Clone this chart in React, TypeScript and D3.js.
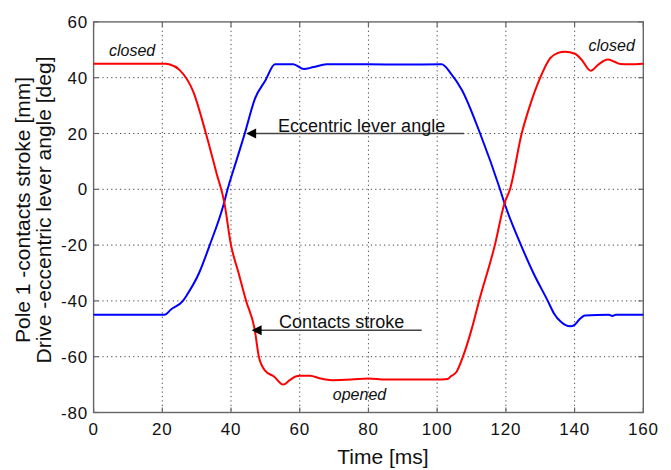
import React from 'react';
import * as d3 from 'd3';

const X_TICKS = [0, 20, 40, 60, 80, 100, 120, 140, 160];
const Y_TICKS = [-80, -60, -40, -20, 0, 20, 40, 60];

// Contacts stroke (red)
const STROKE_T = [0, 21, 22, 25, 29, 32.7, 35.8, 38, 40, 42.2, 44.4, 46.9, 48.1, 50, 52.5, 55.2, 57, 58.8, 60, 63, 66, 69.4, 75, 80, 85, 90, 100, 103, 104, 105.6, 107.5, 110, 112.2, 116.8, 119.6, 121.2, 124.6, 127, 130, 132.9, 135, 137.2, 140.1, 142, 144.7, 147, 149.7, 151.5, 153.3, 156, 160];
const STROKE_V = [45, 45, 44.8, 42.8, 35, 20, 5.7, -4.4, -20, -30, -40, -50.3, -60, -65.1, -67.1, -70, -68.5, -67.1, -66.8, -66.8, -67.8, -68.4, -68.2, -67.8, -68.2, -68.2, -68.2, -68, -67, -65.5, -60, -50.3, -40, -20, -5, 0, 20, 30, 40, 47, 48.8, 49.3, 48.6, 46.5, 42.5, 44.8, 46.5, 45.8, 44.9, 44.8, 45];

// Eccentric lever angle (blue)
const ANGLE_T = [0, 20.6, 22.6, 26, 27.2, 30.7, 33.8, 37.8, 39, 41.5, 44, 47, 50, 52.8, 55, 58.1, 61.2, 64, 67.8, 80, 90, 101.3, 104, 107.2, 112.5, 118.3, 119.6, 124.4, 128, 132.2, 134, 136, 138.7, 140, 141.5, 143, 150, 151, 152, 160];
const ANGLE_V = [-45, -45, -43, -40, -37.8, -30, -20, -5.6, 0, 10, 20, 32.6, 39, 44.8, 44.8, 44.8, 43.1, 43.8, 44.8, 44.8, 44.7, 44.8, 41.5, 35.6, 20, 0, -5, -20, -30, -40, -44.5, -47.5, -49.1, -48.6, -46.5, -45.2, -45, -45.4, -45, -45];

// Arrow annotations: label, arrow tip time, arrow tail time, level
const ARROW_LABELS = ['Eccentric lever angle', 'Contacts stroke'];
const ARROW_TIP_T = [44.4, 46];
const ARROW_TAIL_T = [107.8, 95.5];
const ARROW_V = [20, -50.5];
const ARROW_TEXT_T = [53.7, 54.0];

// State labels
const STATE_LABELS = ['closed', 'closed', 'opened'];
const STATE_T = [11.2, 150.8, 77.4];
const STATE_V = [47.8, 49.6, -75.5];

export default function App() {
  const W = 671;
  const H = 470;
  const x = d3.scaleLinear().domain([0, 160]).range([93.6, 643.3]);
  const y = d3.scaleLinear().domain([-80, 60]).range([412.5, 21.9]);
  const [x0, x1] = x.range();
  const [y0, y1] = y.range();

  const line = d3
    .line<[number, number]>()
    .x((d) => x(d[0]))
    .y((d) => y(d[1]))
    .curve(d3.curveMonotoneX);

  const strokeData: [number, number][] = STROKE_T.map((t, i) => [t, STROKE_V[i]]);
  const angleData: [number, number][] = ANGLE_T.map((t, i) => [t, ANGLE_V[i]]);

  const font = "'Liberation Sans', Arial, Helvetica, sans-serif";
  const axisColor = '#666';
  const tickLen = 5;

  return (
    <svg
      width={W}
      height={H}
      style={{ position: 'absolute', left: 0, top: 0, background: '#fff' }}
      fontFamily={font}
    >
      <rect x={0} y={0} width={W} height={H} fill="#fff" />
      {/* grid */}
      {X_TICKS.slice(1, -1).map((t) => (
        <line key={'gx' + t} x1={x(t)} x2={x(t)} y1={y1} y2={y0} stroke="#444" strokeWidth={1} strokeDasharray="1.2,3.2" />
      ))}
      {Y_TICKS.slice(1, -1).map((v) => (
        <line key={'gy' + v} x1={x0} x2={x1} y1={y(v)} y2={y(v)} stroke="#444" strokeWidth={1} strokeDasharray="1.2,3.2" />
      ))}
      {/* ticks */}
      {X_TICKS.map((t) => (
        <g key={'tx' + t}>
          <line x1={x(t)} x2={x(t)} y1={y0} y2={y0 - tickLen} stroke={axisColor} strokeWidth={1.2} />
          <line x1={x(t)} x2={x(t)} y1={y1} y2={y1 + tickLen} stroke={axisColor} strokeWidth={1.2} />
          <text x={x(t)} y={435} textAnchor="middle" fontSize={17} letterSpacing={0.8} fill="#111">
            {t}
          </text>
        </g>
      ))}
      {Y_TICKS.map((v) => (
        <g key={'ty' + v}>
          <line x1={x0} x2={x0 + tickLen} y1={y(v)} y2={y(v)} stroke={axisColor} strokeWidth={1.2} />
          <line x1={x1} x2={x1 - tickLen} y1={y(v)} y2={y(v)} stroke={axisColor} strokeWidth={1.2} />
          <text x={88} y={y(v)} dy="0.36em" textAnchor="end" fontSize={17} letterSpacing={0.8} fill="#111">
            {v}
          </text>
        </g>
      ))}
      {/* box */}
      <rect x={x0} y={y1} width={x1 - x0} height={y0 - y1} fill="none" stroke={axisColor} strokeWidth={1.4} />

      {/* curves */}
      <path d={line(angleData) || ''} fill="none" stroke="#0000ff" strokeWidth={2} />
      <path d={line(strokeData) || ''} fill="none" stroke="#ff0000" strokeWidth={2} />

      {/* arrows */}
      {ARROW_LABELS.map((lab, i) => {
        const yy = y(ARROW_V[i]);
        const tip = x(ARROW_TIP_T[i]);
        const tail = x(ARROW_TAIL_T[i]);
        return (
          <g key={'ar' + i}>
            <line x1={tail} x2={tip + 8} y1={yy} y2={yy} stroke="#444" strokeWidth={1.6} />
            <polygon points={`${tip},${yy} ${tip + 10},${yy - 5} ${tip + 10},${yy + 5}`} fill="#000" />
            <text x={x(ARROW_TEXT_T[i])} y={yy - 1.8} fontSize={18} fill="#111">
              {lab}
            </text>
          </g>
        );
      })}

      {/* state labels */}
      {STATE_LABELS.map((lab, i) => (
        <text key={'st' + i} x={x(STATE_T[i])} y={y(STATE_V[i])} textAnchor="middle" fontSize={16} fontStyle="italic" fill="#111">
          {lab}
        </text>
      ))}

      {/* axis labels */}
      <text x={383} y={464} textAnchor="middle" fontSize={21} fill="#111">
        Time [ms]
      </text>
      <g transform="translate(30,210) rotate(-90)">
        <text x={0} y={0} textAnchor="middle" fontSize={21} fill="#111">
          Pole 1 -contacts stroke [mm]
        </text>
      </g>
      <g transform="translate(51,210) rotate(-90)">
        <text x={0} y={0} textAnchor="middle" fontSize={21} fill="#111">
          Drive -eccentric lever angle [deg]
        </text>
      </g>
    </svg>
  );
}
